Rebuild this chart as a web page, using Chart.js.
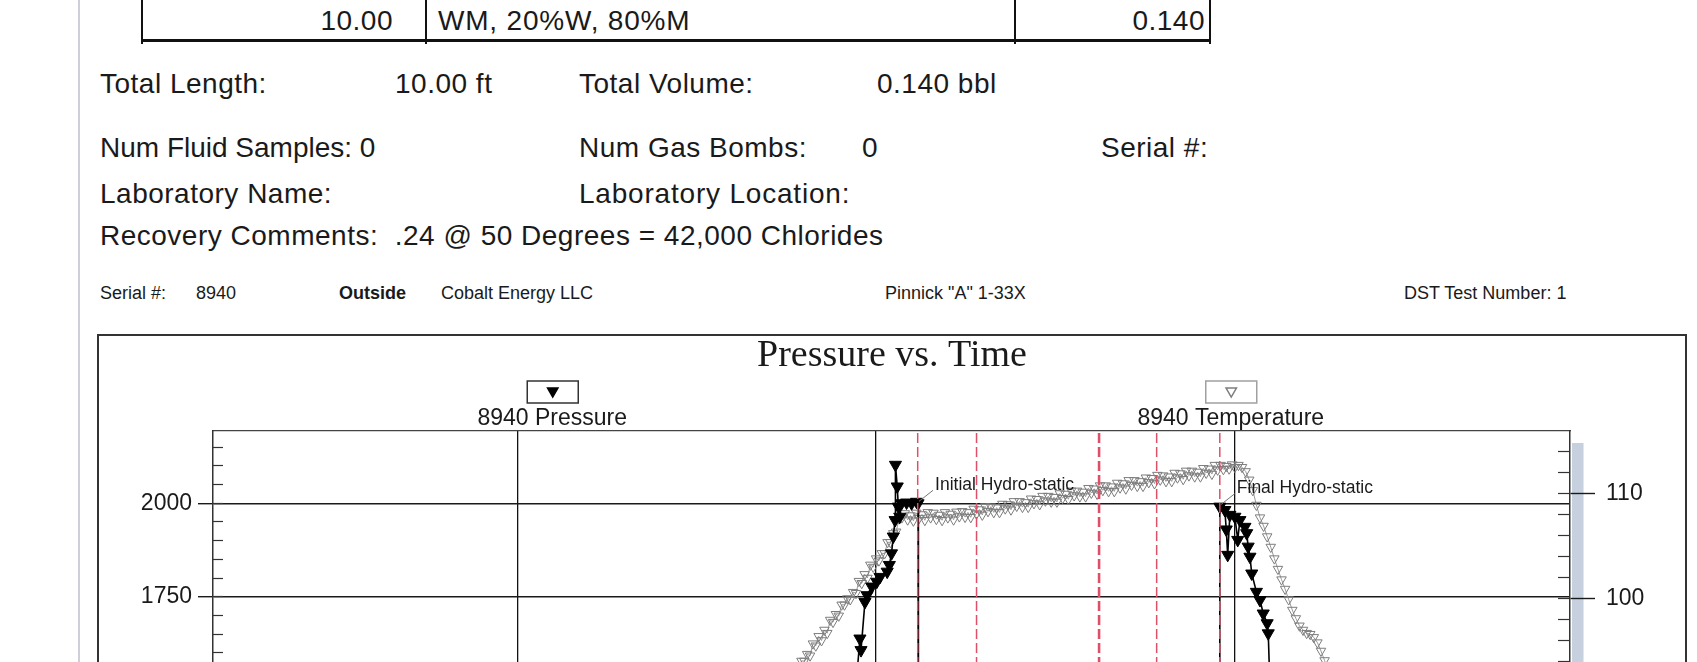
<!DOCTYPE html>
<html lang="en">
<head>
  <meta charset="UTF-8" />
  <title>Pressure vs. Time – 8940</title>
  <script src="https://cdn.jsdelivr.net/npm/chart.js"></script>
  <style>
    html, body { margin: 0; padding: 0; width: 1697px; height: 662px; overflow: hidden; background: #fff; }
    body { position: relative; font-family: Arial, "Liberation Sans", sans-serif; color: #1a1a1a; }
    .t { position: absolute; white-space: pre; font-size: 28px; line-height: 28px; letter-spacing: 0.5px; }
    .h { position: absolute; white-space: pre; font-size: 18px; line-height: 18px; }
    .ln { position: absolute; background: #111; }
    #pageEdge { position: absolute; left: 78px; top: 0; width: 2px; height: 662px; background: #cfcfdc; }
    #chartBox { position: absolute; left: 97px; top: 334px; width: 1586px; height: 700px; border: 2px solid #333; }
    #chartBox canvas { position: absolute; left: 0; top: 0; }
  </style>
</head>
<body>
  <div id="pageEdge"></div>

  <!-- resto de la tabla de recuperacion -->
  <div class="ln" style="left:141px;top:0;width:2px;height:44px"></div>
  <div class="ln" style="left:425px;top:0;width:2px;height:44px"></div>
  <div class="ln" style="left:1014px;top:0;width:2px;height:44px"></div>
  <div class="ln" style="left:1209px;top:0;width:2px;height:44px"></div>
  <div class="ln" style="left:141px;top:39px;width:1070px;height:3px"></div>
  <div class="t" style="right:1304px;top:7px">10.00</div>
  <div class="t" style="left:438px;top:7px;letter-spacing:0.8px">WM, 20%W, 80%M</div>
  <div class="t" style="right:492px;top:7px">0.140</div>

  <div class="t" style="left:100px;top:70px">Total Length:</div>
  <div class="t" style="left:395px;top:70px">10.00 ft</div>
  <div class="t" style="left:579px;top:70px">Total Volume:</div>
  <div class="t" style="left:877px;top:70px">0.140 bbl</div>

  <div class="t" style="left:100px;top:134px;letter-spacing:0">Num Fluid Samples: 0</div>
  <div class="t" style="left:579px;top:134px">Num Gas Bombs:</div>
  <div class="t" style="left:862px;top:134px">0</div>
  <div class="t" style="left:1101px;top:134px">Serial #:</div>

  <div class="t" style="left:100px;top:180px">Laboratory Name:</div>
  <div class="t" style="left:579px;top:180px;letter-spacing:0.8px">Laboratory Location:</div>

  <div class="t" style="left:100px;top:222px">Recovery Comments:  .24 @ 50 Degrees = 42,000 Chlorides</div>

  <div class="h" style="left:100px;top:284px">Serial #:</div>
  <div class="h" style="left:196px;top:284px">8940</div>
  <div class="h" style="left:339px;top:284px;font-weight:bold">Outside</div>
  <div class="h" style="left:441px;top:284px">Cobalt Energy LLC</div>
  <div class="h" style="left:885px;top:284px">Pinnick "A" 1-33X</div>
  <div class="h" style="left:1404px;top:284px">DST Test Number: 1</div>

  <div id="chartBox">
    <canvas id="chart-pt" width="1586" height="640"></canvas>
  </div>

  <script>
    // tiempo en horas, presion en psi, temperatura en grados F
    const pressTime = [1.90, 1.94, 1.947, 1.955, 1.958, 1.969, 1.975, 1.988, 2.002, 2.011,
      2.031, 2.037, 2.043, 2.048, 2.053, 2.054, 2.059, 2.062, 2.066, 2.071,
      2.085, 2.099, 2.113, 2.117, 2.118, 2.20, 2.279, 2.281, 2.45, 2.62,
      2.623, 2.70, 2.781, 2.783, 2.87, 2.957, 2.958, 2.972, 2.976, 2.980,
      2.986, 3.000, 3.008, 3.014, 3.028, 3.033, 3.037, 3.042, 3.047, 3.060,
      3.070, 3.079, 3.090, 3.093, 3.098, 3.103, 3.15];
    const pressValue = [1180, 1460, 1545, 1638, 1607, 1736, 1754, 1777, 1790, 1803,
      1817, 1835, 1866, 1911, 1955, 2103, 2045, 1991, 1964, 2000,
      2002, 2000, 2004, 2000, 85, 98, 112, 115, 720, 905,
      118, 132, 146, 150, 690, 870, 1991, 1982, 1930, 1862,
      1969, 1964, 1902, 1955, 1937, 1920, 1884, 1857, 1812, 1763,
      1741, 1705, 1679, 1652, 1500, 1320, 1050];

    const tempTime = [
      1.600, 1.608, 1.616, 1.624, 1.632, 1.640, 1.648, 1.656, 1.664, 1.672,
      1.680, 1.688, 1.696, 1.704, 1.712, 1.720, 1.728, 1.736, 1.744, 1.752,
      1.760, 1.768, 1.776, 1.784, 1.792, 1.800, 1.808, 1.816, 1.824, 1.832,
      1.840, 1.848, 1.856, 1.864, 1.872, 1.880, 1.888, 1.896, 1.904, 1.912,
      1.920, 1.928, 1.936, 1.944, 1.952, 1.960, 1.968, 1.976, 1.984, 1.992,
      2.000, 2.008, 2.016, 2.024, 2.032, 2.040, 2.048, 2.056, 2.064, 2.072,
      2.080, 2.088, 2.096, 2.104, 2.112, 2.120, 2.128, 2.136, 2.144, 2.152,
      2.160, 2.168, 2.176, 2.184, 2.192, 2.200, 2.208, 2.216, 2.224, 2.232,
      2.240, 2.248, 2.256, 2.264, 2.272, 2.280, 2.288, 2.296, 2.304, 2.312,
      2.320, 2.328, 2.336, 2.344, 2.352, 2.360, 2.368, 2.376, 2.384, 2.392,
      2.400, 2.408, 2.416, 2.424, 2.432, 2.440, 2.448, 2.456, 2.464, 2.472,
      2.480, 2.488, 2.496, 2.504, 2.512, 2.520, 2.528, 2.536, 2.544, 2.552,
      2.560, 2.568, 2.576, 2.584, 2.592, 2.600, 2.608, 2.616, 2.624, 2.632,
      2.640, 2.648, 2.656, 2.664, 2.672, 2.680, 2.688, 2.696, 2.704, 2.712,
      2.720, 2.728, 2.736, 2.744, 2.752, 2.760, 2.768, 2.776, 2.784, 2.792,
      2.800, 2.808, 2.816, 2.824, 2.832, 2.840, 2.848, 2.856, 2.864, 2.872,
      2.880, 2.888, 2.896, 2.904, 2.912, 2.920, 2.928, 2.936, 2.944, 2.952,
      2.960, 2.968, 2.976, 2.984, 2.992, 3.000,
      3.010, 3.020, 3.030, 3.040, 3.050, 3.060, 3.070, 3.080, 3.090, 3.100,
      3.110, 3.120, 3.130, 3.140, 3.150, 3.160, 3.170, 3.180, 3.190, 3.200,
      3.210, 3.220, 3.230, 3.240, 3.250, 3.260, 3.270, 3.280, 3.290, 3.300, 3.310];
    const tempValue = [
      84.5, 84.5, 85.1, 85.2, 86.15, 86.25, 86.8, 86.85, 87.8, 87.9,
      88.6, 88.5, 89.2, 89.2, 90.25, 90.25, 90.8, 90.85, 91.8, 91.9,
      92.5, 92.4, 93.1, 93.1, 94.05, 94.05, 94.7, 94.55, 95.7, 95.5,
      96.4, 96.0, 97.0, 96.7, 97.95, 97.75, 98.5, 98.35, 99.4, 99.4,
      100.0, 99.9, 100.6, 100.5, 101.65, 101.45, 102.3, 101.95, 103.2, 103.0,
      103.8, 103.6, 104.3, 104.3, 105.35, 105.35, 106.2, 106.35, 107.6, 107.7,
      108.1, 107.5, 107.9, 107.4, 108.15, 107.65, 108.0, 107.45, 108.2, 107.7,
      108.15, 107.55, 107.95, 107.45, 108.2, 107.7, 108.05, 107.5, 108.25, 107.8,
      108.3, 107.75, 108.2, 107.73, 108.53, 108.07, 108.47, 107.96, 108.76, 108.3,
      108.75, 108.2, 108.65, 108.2, 109.0, 108.55, 108.95, 108.45, 109.25, 108.8,
      109.25, 108.7, 109.15, 108.7, 109.5, 109.05, 109.45, 108.95, 109.75, 109.3,
      109.75, 109.2, 109.65, 109.2, 110.0, 109.55, 109.95, 109.45, 110.25, 109.8,
      110.25, 109.7, 110.15, 109.7, 110.5, 110.05, 110.45, 109.95, 110.75, 110.3,
      110.75, 110.2, 110.65, 110.2, 111.0, 110.55, 110.95, 110.45, 111.25, 110.8,
      111.25, 110.7, 111.15, 110.7, 111.5, 111.05, 111.45, 110.95, 111.75, 111.3,
      111.7, 111.15, 111.6, 111.15, 111.95, 111.5, 111.9, 111.35, 112.15, 111.7,
      112.15, 111.6, 112.05, 111.6, 112.4, 111.95, 112.35, 111.85, 112.7, 112.25,
      112.7, 112.3, 112.6, 112.35, 112.75, 112.5,
      112.7, 112.5, 112.1, 111.3, 110.3, 108.9, 107.7, 106.9, 105.9, 104.9,
      103.8, 102.8, 101.8, 100.9, 99.9, 98.9, 98.1, 97.4, 97.0, 96.7,
      96.6, 96.3, 95.8, 95.0, 94.1, 93.1, 92.0, 91.0, 90.0, 89.0, 88.0];

    // marcas de periodos (lineas rojas discontinuas)
    const periodTimes = [2.116, 2.280, 2.620, 2.623, 2.782, 2.958];

    const noteLabels = ["Initial Hydro-static", "Final Hydro-static"];
    const noteTimes = [2.117, 2.958];
    const notePressures = [2000, 1991];

    const timeTicks = [1, 2, 3];
    const pressureTicks = [1000, 1250, 1500, 1750, 2000];
    const tempTicks = [80, 90, 100, 110];

    const TIME_MIN = 0.152, TIME_MAX = 3.934;
    const P_MIN = 1000, P_MAX = 2193.5;
    const T_MIN = 73.49, T_MAX = 115.95;

    const toPoints = (xs, ys) => xs.map((x, i) => ({ x: x, y: ys[i] }));

    const periodSets = periodTimes.map(t => ({
      label: "",
      data: [{ x: t, y: P_MIN }, { x: t, y: P_MAX }],
      yAxisID: "y",
      borderColor: "#de5068",
      borderWidth: 1.5,
      borderDash: [10, 4],
      pointRadius: 0,
      order: 0
    }));

    const fixWidth = w => s => { s.width = w; };
    const setTicks = list => s => { s.ticks = list.map(v => ({ value: v })); };

    // barra azul junto al eje de temperatura
    const sideBar = {
      id: "sideBar",
      beforeDraw(chart) {
        const a = chart.chartArea, ctx = chart.ctx;
        ctx.save();
        ctx.fillStyle = "#c6d0de";
        ctx.fillRect(a.right + 2, a.top + 12, 11.5, a.bottom - a.top);
        ctx.restore();
      }
    };

    // leyenda: cajita con el simbolo y el nombre debajo
    const boxLegend = {
      id: "boxLegend",
      afterDraw(chart) {
        const a = chart.chartArea, ctx = chart.ctx;
        chart.data.datasets.forEach(ds => {
          if (ds.legendAt === undefined) return;
          const cx = a.left + (a.right - a.left) * ds.legendAt;
          ctx.save();
          ctx.strokeStyle = ds.legendBox;
          ctx.lineWidth = 1.5;
          ctx.strokeRect(cx - 25, 45, 51, 22);
          ctx.fillStyle = ds.pointBackgroundColor;
          ctx.strokeStyle = ds.pointBorderColor;
          Chart.helpers.drawPoint(ctx, { pointStyle: "triangle", radius: 6, rotation: 180, borderWidth: 1 }, cx + 0.5, 55);
          ctx.fillStyle = "#1a1a1a";
          ctx.font = "23px Arial";
          ctx.textAlign = "center";
          ctx.textBaseline = "middle";
          ctx.fillText(ds.label, cx, 83);
          ctx.restore();
        });
      }
    };

    // etiquetas de hidrostatica
    const hydroNotes = {
      id: "hydroNotes",
      afterDatasetsDraw(chart) {
        const ctx = chart.ctx, xs = chart.scales.x, ys = chart.scales.y;
        ctx.save();
        ctx.font = "17.5px Arial";
        ctx.textBaseline = "middle";
        noteLabels.forEach((txt, i) => {
          const px = xs.getPixelForValue(noteTimes[i]);
          const py = ys.getPixelForValue(notePressures[i]);
          ctx.strokeStyle = "#777";
          ctx.lineWidth = 1;
          ctx.beginPath();
          ctx.moveTo(px + 1, py - 2);
          ctx.lineTo(px + 15, py - 13);
          ctx.stroke();
          ctx.fillStyle = "#1a1a1a";
          ctx.fillText(txt, px + 17, py - 18);
        });
        ctx.restore();
      }
    };

    new Chart(document.getElementById("chart-pt"), {
      type: "line",
      data: {
        datasets: [
          {
            label: "8940 Pressure",
            data: toPoints(pressTime, pressValue),
            yAxisID: "y",
            borderColor: "#000",
            borderWidth: 1.6,
            pointStyle: "triangle",
            pointRotation: 180,
            pointRadius: 7,
            pointBackgroundColor: "#000",
            pointBorderColor: "#000",
            pointBorderWidth: 1,
            legendAt: 0.25,
            legendBox: "#333",
            order: 1
          },
          {
            label: "8940 Temperature",
            data: toPoints(tempTime, tempValue),
            yAxisID: "yT",
            borderColor: "#999",
            borderWidth: 1,
            pointStyle: "triangle",
            pointRotation: 180,
            pointRadius: 5.5,
            pointBackgroundColor: "rgba(255,255,255,0)",
            pointBorderColor: "#7d7d7d",
            pointBorderWidth: 1,
            legendAt: 0.75,
            legendBox: "#a0a0a0",
            order: 2
          },
          ...periodSets
        ]
      },
      options: {
        responsive: false,
        animation: false,
        devicePixelRatio: 1,
        layout: { padding: 0, autoPadding: false },
        plugins: {
          legend: { display: false },
          tooltip: { enabled: false },
          title: {
            display: true,
            text: "Pressure vs. Time",
            color: "#1a1a1a",
            font: { family: "'Liberation Serif', 'Times New Roman', serif", size: 38, weight: "normal", lineHeight: 1 },
            padding: { top: 1.5, bottom: 55.5 }
          }
        },
        scales: {
          x: {
            type: "linear", position: "bottom", min: TIME_MIN, max: TIME_MAX,
            afterBuildTicks: setTicks(timeTicks),
            afterFit: s => { s.height = 99.1; },
            ticks: { display: false },
            grid: { color: "#111", lineWidth: 1.3, drawTicks: false },
            border: { color: "#333", width: 1.5 }
          },
          xTop: {
            type: "linear", position: "top", min: TIME_MIN, max: TIME_MAX,
            afterFit: s => { s.height = 0; },
            ticks: { display: false },
            grid: { drawOnChartArea: false, drawTicks: false },
            border: { color: "#444", width: 1.3 }
          },
          y: {
            type: "linear", position: "left", weight: 1, min: P_MIN, max: P_MAX,
            afterBuildTicks: setTicks(pressureTicks),
            afterFit: fixWidth(114),
            ticks: { color: "#1a1a1a", font: { family: "Arial", size: 23 }, padding: 6, autoSkip: false,
                     callback: v => String(v) },
            grid: { color: "#1a1a1a", lineWidth: 1.4, tickLength: 15 },
            border: { color: "#333", width: 1.5 }
          },
          yMinor: {
            type: "linear", position: "left", weight: 0, min: P_MIN, max: P_MAX,
            afterFit: fixWidth(0),
            ticks: { display: false, stepSize: 50, includeBounds: false },
            grid: { drawOnChartArea: false, tickLength: -10, tickColor: "#333", tickWidth: 1.2 },
            border: { display: false }
          },
          yT: {
            type: "linear", position: "right", weight: 1, min: T_MIN, max: T_MAX,
            afterBuildTicks: setTicks(tempTicks),
            afterFit: fixWidth(115),
            ticks: { color: "#1a1a1a", font: { family: "Arial", size: 23 }, padding: 11, autoSkip: false,
                     callback: v => String(v) },
            grid: { drawOnChartArea: false, tickLength: 25, tickColor: "#1a1a1a", tickWidth: 1.4 },
            border: { color: "#333", width: 1.5 }
          },
          yTMinor: {
            type: "linear", position: "right", weight: 0, min: T_MIN, max: T_MAX,
            afterFit: fixWidth(0),
            ticks: { display: false, stepSize: 2, includeBounds: false },
            grid: { drawOnChartArea: false, tickLength: -12, tickColor: "#333", tickWidth: 1.2 },
            border: { display: false }
          }
        }
      },
      plugins: [sideBar, boxLegend, hydroNotes]
    });
  </script>
</body>
</html>
